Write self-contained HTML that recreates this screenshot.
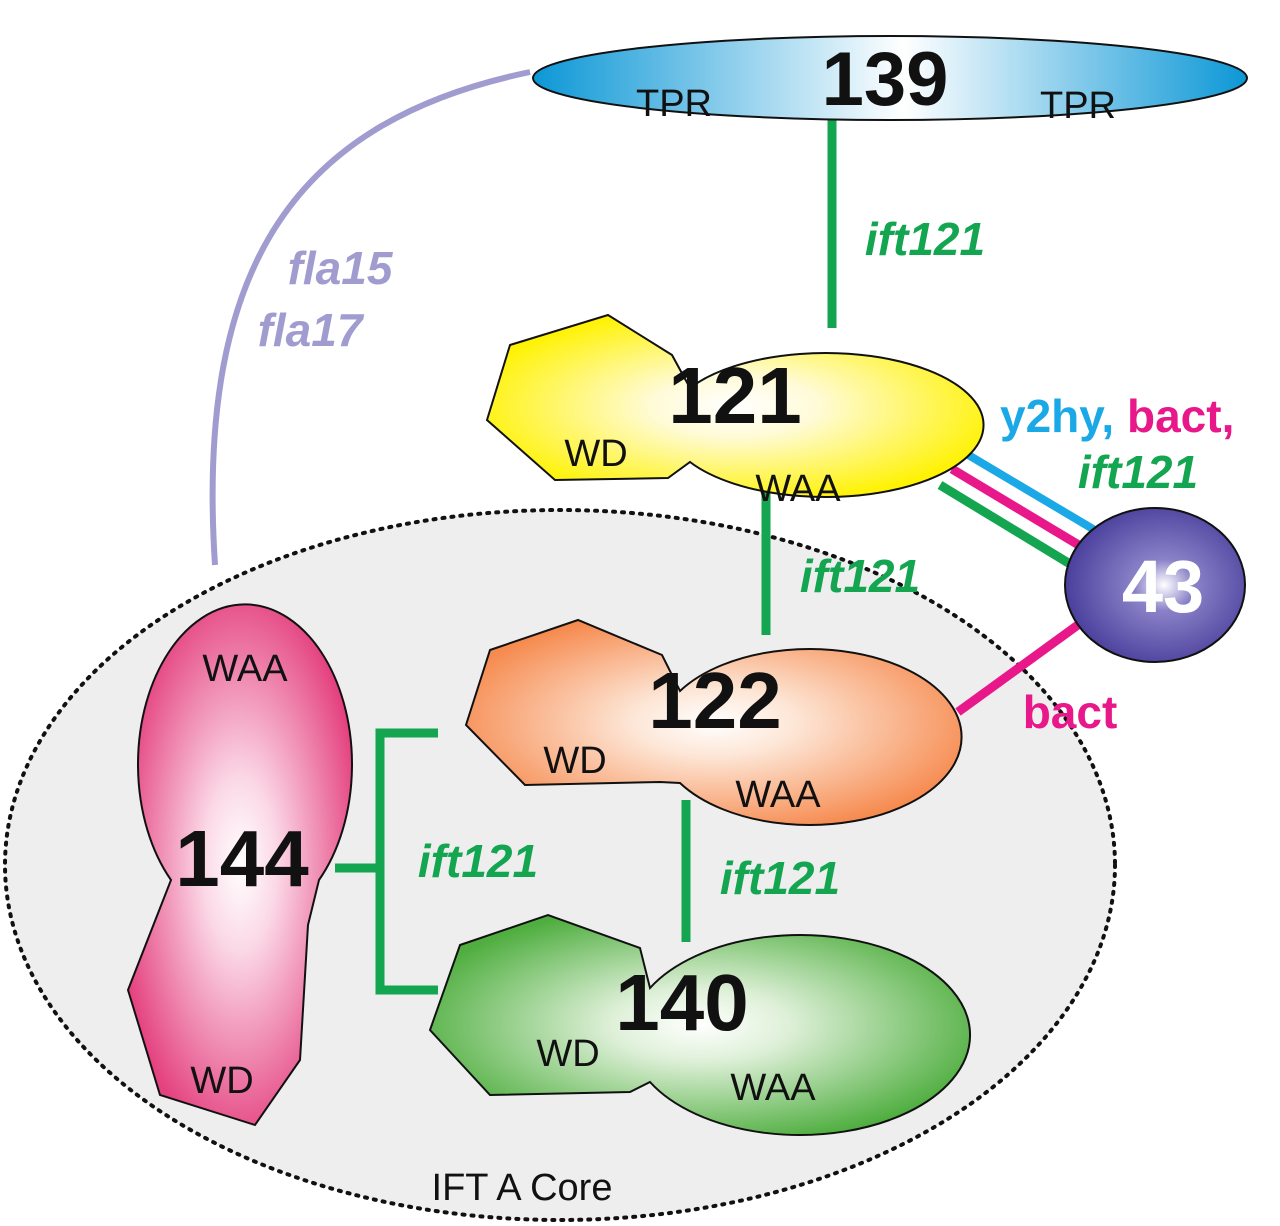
<!DOCTYPE html>
<html><head><meta charset="utf-8"><style>
html,body{margin:0;padding:0;background:#fff;}
svg{display:block;font-family:"Liberation Sans",sans-serif;}
</style></head><body>
<svg width="1280" height="1226" viewBox="0 0 1280 1226">
<defs>
<linearGradient id="g139" x1="0" x2="1" y1="0" y2="0">
<stop offset="0" stop-color="#0c97d6"/><stop offset="0.52" stop-color="#ffffff"/><stop offset="1" stop-color="#0c97d6"/></linearGradient>
<radialGradient id="g121" cx="0.5" cy="0.5" r="0.55"><stop offset="0" stop-color="#fff"/><stop offset="0.3" stop-color="#fffbd8"/><stop offset="1" stop-color="#fff200"/></radialGradient>
<radialGradient id="g122" cx="0.5" cy="0.5" r="0.55"><stop offset="0" stop-color="#fff"/><stop offset="0.3" stop-color="#fde6d6"/><stop offset="1" stop-color="#f68b50"/></radialGradient>
<radialGradient id="g140" cx="0.5" cy="0.5" r="0.55"><stop offset="0" stop-color="#fff"/><stop offset="0.3" stop-color="#def0d8"/><stop offset="1" stop-color="#4fae3f"/></radialGradient>
<radialGradient id="g144" cx="0.5" cy="0.5" r="0.55"><stop offset="0" stop-color="#fff"/><stop offset="0.3" stop-color="#fbd8e6"/><stop offset="1" stop-color="#e4417f"/></radialGradient>
<radialGradient id="g43" cx="0.55" cy="0.5" r="0.55"><stop offset="0" stop-color="#fff"/><stop offset="0.3" stop-color="#8a82c8"/><stop offset="1" stop-color="#4a3f9c"/></radialGradient>
</defs>
<ellipse cx="560" cy="865" rx="555" ry="355" fill="#eeeeef" stroke="#111" stroke-width="4" stroke-dasharray="2 7" stroke-linecap="round"/>
<path d="M530,72 C300,120 195,260 215,565" fill="none" stroke="#a09ccf" stroke-width="6"/>
<g stroke="#13a550" stroke-width="9" fill="none">
<line x1="832" y1="118" x2="832" y2="328"/>
<line x1="766" y1="490" x2="766" y2="635"/>
<line x1="686" y1="800" x2="686" y2="942"/>
<polyline points="335,868 380,868"/>
<polyline points="438,733 380,733 380,990 438,990"/>
<line x1="940" y1="485" x2="1075" y2="567"/>
</g>
<line x1="965" y1="453" x2="1098" y2="532" stroke="#1aa9e6" stroke-width="8"/>
<line x1="952" y1="469" x2="1087" y2="550" stroke="#e8178a" stroke-width="9"/>
<line x1="958" y1="712" x2="1082" y2="622" stroke="#e8178a" stroke-width="9"/>
<ellipse cx="890" cy="78" rx="357" ry="42" fill="url(#g139)" stroke="#111" stroke-width="2"/>
<path d="M510,345 L608,315 L672,355 L690,388 A158,72 0 1 1 690,462 L668,478 L555,480 L487,420 Z" fill="url(#g121)" stroke="#111" stroke-width="2"/>
<path d="M490,650 L578,620 L662,655 L680,691 A152,88 0 1 1 680,783 L660,782 L525,785 L466,725 Z" fill="url(#g122)" stroke="#111" stroke-width="2"/>
<path d="M460,945 L548,915 L640,948 L650,988 A170,100 0 1 1 650,1082 L630,1092 L490,1095 L430,1030 Z" fill="url(#g140)" stroke="#111" stroke-width="2"/>
<path d="M171,880 A107,160 0 1 1 319,880 L308,925 L300,1060 L255,1125 L160,1095 L128,990 Z" fill="url(#g144)" stroke="#111" stroke-width="2"/>
<ellipse cx="1155" cy="585" rx="90" ry="77" fill="url(#g43)" stroke="#111" stroke-width="2"/>
<g font-weight="bold" fill="#111" text-anchor="middle">
<text x="885" y="105" font-size="76">139</text>
<text x="735" y="423" font-size="80">121</text>
<text x="715" y="728" font-size="80">122</text>
<text x="682" y="1030" font-size="80">140</text>
<text x="242" y="886" font-size="80">144</text>
<text x="1163" y="612" font-size="74" fill="#fff">43</text>
</g>
<g font-size="38" fill="#111" text-anchor="middle">
<text x="674" y="116">TPR</text>
<text x="1078" y="118">TPR</text>
<text x="596" y="466">WD</text>
<text x="798" y="501">WAA</text>
<text x="575" y="773">WD</text>
<text x="778" y="807">WAA</text>
<text x="568" y="1066">WD</text>
<text x="773" y="1100">WAA</text>
<text x="245" y="681">WAA</text>
<text x="222" y="1093">WD</text>
<text x="522" y="1200">IFT A Core</text>
</g>
<g font-size="46" font-weight="bold" font-style="italic" fill="#13a550" text-anchor="middle">
<text x="925" y="255">ift121</text>
<text x="860" y="592">ift121</text>
<text x="478" y="877">ift121</text>
<text x="780" y="894">ift121</text>
<text x="1138" y="488">ift121</text>
</g>
<text x="1000" y="432" font-size="46" font-weight="bold"><tspan fill="#1aa9e6">y2hy,</tspan><tspan fill="#e8178a"> bact,</tspan></text>
<text x="1070" y="728" font-size="46" font-weight="bold" fill="#e8178a" text-anchor="middle">bact</text>
<g font-size="46" font-weight="bold" font-style="italic" fill="#a09ccf" text-anchor="middle">
<text x="340" y="284">fla15</text>
<text x="310" y="346">fla17</text>
</g>
</svg>
</body></html>
